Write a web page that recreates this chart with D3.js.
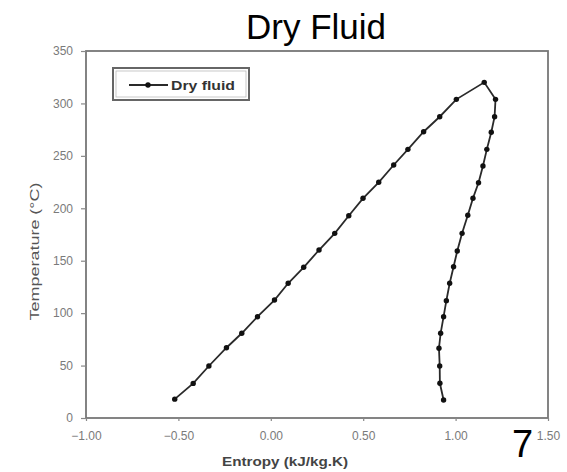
<!DOCTYPE html>
<html>
<head>
<meta charset="utf-8">
<script src="https://cdn.jsdelivr.net/npm/d3@7"></script>
<style>
  body { margin: 0; background: #fff; }
  svg { display: block; font-family: "Liberation Sans", Arial, sans-serif; }
</style>
</head>
<body>
<div id="chart"></div>
<script>
// values: left branch bottom -> peak, then right branch peak -> bottom
var entropy = [-0.52, -0.42, -0.335, -0.24, -0.157, -0.072, 0.02, 0.094, 0.178, 0.261,
  0.346, 0.422, 0.499, 0.584, 0.665, 0.742, 0.827, 0.914, 1.004, 1.155,
  1.216, 1.211, 1.193, 1.169, 1.148, 1.124, 1.094, 1.066, 1.035, 1.009,
  0.989, 0.968, 0.95, 0.935, 0.919, 0.91, 0.914, 0.915, 0.935];
var temperature = [18, 33, 49.6, 67, 80.8, 96.6, 112.5, 128.5, 143.7, 160.2,
  176.1, 192.9, 209.5, 224.8, 241.3, 256.2, 273, 287.3, 303.9, 320.1,
  303.9, 287.3, 272.5, 256.2, 240.3, 224.4, 209.5, 193.3, 176.1, 159.3,
  144.3, 128.5, 111.9, 96.6, 80.8, 66.5, 49.6, 33.1, 17.2];
var xTicks = [-1.0, -0.5, 0.0, 0.5, 1.0, 1.5];
var yTicks = [0, 50, 100, 150, 200, 250, 300, 350];
var seriesName = "Dry fluid";

var width = 567, height = 472;
var margin = { left: 86, top: 51, right: 19, bottom: 54 };
var plotW = width - margin.left - margin.right;
var plotH = height - margin.top - margin.bottom;

var svg = d3.select("#chart").append("svg")
  .attr("width", width)
  .attr("height", height);

var scaleX = d3.scaleLinear().domain([-1, 1.5]).range([0, plotW]);
var scaleY = d3.scaleLinear().domain([0, 350]).range([plotH, 0]);

var g = svg.append("g")
  .attr("transform", `translate(${margin.left},${margin.top})`);

// plot frame
g.append("rect")
  .attr("x", 0).attr("y", 0)
  .attr("width", plotW).attr("height", plotH)
  .attr("fill", "none")
  .attr("stroke", "#777")
  .attr("stroke-width", 1.8);

var xAxis = g.append("g")
  .attr("transform", `translate(0,${plotH})`)
  .call(d3.axisBottom(scaleX).tickValues(xTicks).tickFormat(d3.format(".2f")).tickSize(3).tickPadding(10));
var yAxis = g.append("g")
  .call(d3.axisLeft(scaleY).tickValues(yTicks).tickSize(5).tickPadding(8));

[xAxis, yAxis].forEach(function(ax) {
  ax.select(".domain").remove();
  ax.selectAll("line").attr("stroke", "#888").attr("stroke-width", 1.2);
  ax.selectAll("text")
    .attr("fill", "#7a7a7a")
    .style("font-size", "12px")
    .style("font-family", "'Liberation Sans', Arial, sans-serif");
});

// series
var points = entropy.map((s, i) => [s, temperature[i]]);
var line = d3.line()
  .x(d => scaleX(d[0]))
  .y(d => scaleY(d[1]));

g.append("path")
  .datum(points)
  .attr("d", line)
  .attr("fill", "none")
  .attr("stroke", "#2a2a2a")
  .attr("stroke-width", 1.8);

g.selectAll(".pt").data(points).enter()
  .append("circle")
  .attr("class", "pt")
  .attr("cx", d => scaleX(d[0]))
  .attr("cy", d => scaleY(d[1]))
  .attr("r", 2.7)
  .attr("fill", "#111");

// legend
var legend = g.append("g").attr("transform", "translate(27,17)");
legend.append("rect")
  .attr("x", 0).attr("y", 0)
  .attr("width", 136).attr("height", 32)
  .attr("fill", "#fff")
  .attr("stroke", "#666")
  .attr("stroke-width", 2);
legend.append("rect")
  .attr("x", 3).attr("y", 3)
  .attr("width", 130).attr("height", 26)
  .attr("fill", "none")
  .attr("stroke", "#bbb")
  .attr("stroke-width", 0.8);
legend.append("line")
  .attr("x1", 16).attr("x2", 55)
  .attr("y1", 17).attr("y2", 17)
  .attr("stroke", "#2a2a2a")
  .attr("stroke-width", 1.8);
legend.append("circle")
  .attr("cx", 35).attr("cy", 17).attr("r", 2.7)
  .attr("fill", "#111");
legend.append("text")
  .attr("x", 58).attr("y", 21.5)
  .attr("fill", "#333")
  .style("font-size", "12px")
  .style("font-weight", "bold")
  .attr("textLength", 64)
  .attr("lengthAdjust", "spacingAndGlyphs")
  .text(seriesName);

// axis titles
svg.append("text")
  .attr("transform", `translate(39,${margin.top + plotH / 2 + 17}) rotate(-90)`)
  .attr("text-anchor", "middle")
  .attr("fill", "#555")
  .style("font-size", "12px")
  .attr("textLength", 138)
  .attr("lengthAdjust", "spacingAndGlyphs")
  .text("Temperature (°C)");

svg.append("text")
  .attr("x", 285).attr("y", 466)
  .attr("text-anchor", "middle")
  .attr("fill", "#444")
  .style("font-size", "12px")
  .style("font-weight", "bold")
  .attr("textLength", 126)
  .attr("lengthAdjust", "spacingAndGlyphs")
  .text("Entropy (kJ/kg.K)");

// slide title and page number
svg.append("text")
  .attr("x", 316).attr("y", 39)
  .attr("text-anchor", "middle")
  .attr("fill", "#000")
  .style("font-size", "35px")
  .text("Dry Fluid");

svg.append("text")
  .attr("x", 512).attr("y", 457)
  .attr("fill", "#000")
  .style("font-size", "38px")
  .text("7");
</script>
</body>
</html>
